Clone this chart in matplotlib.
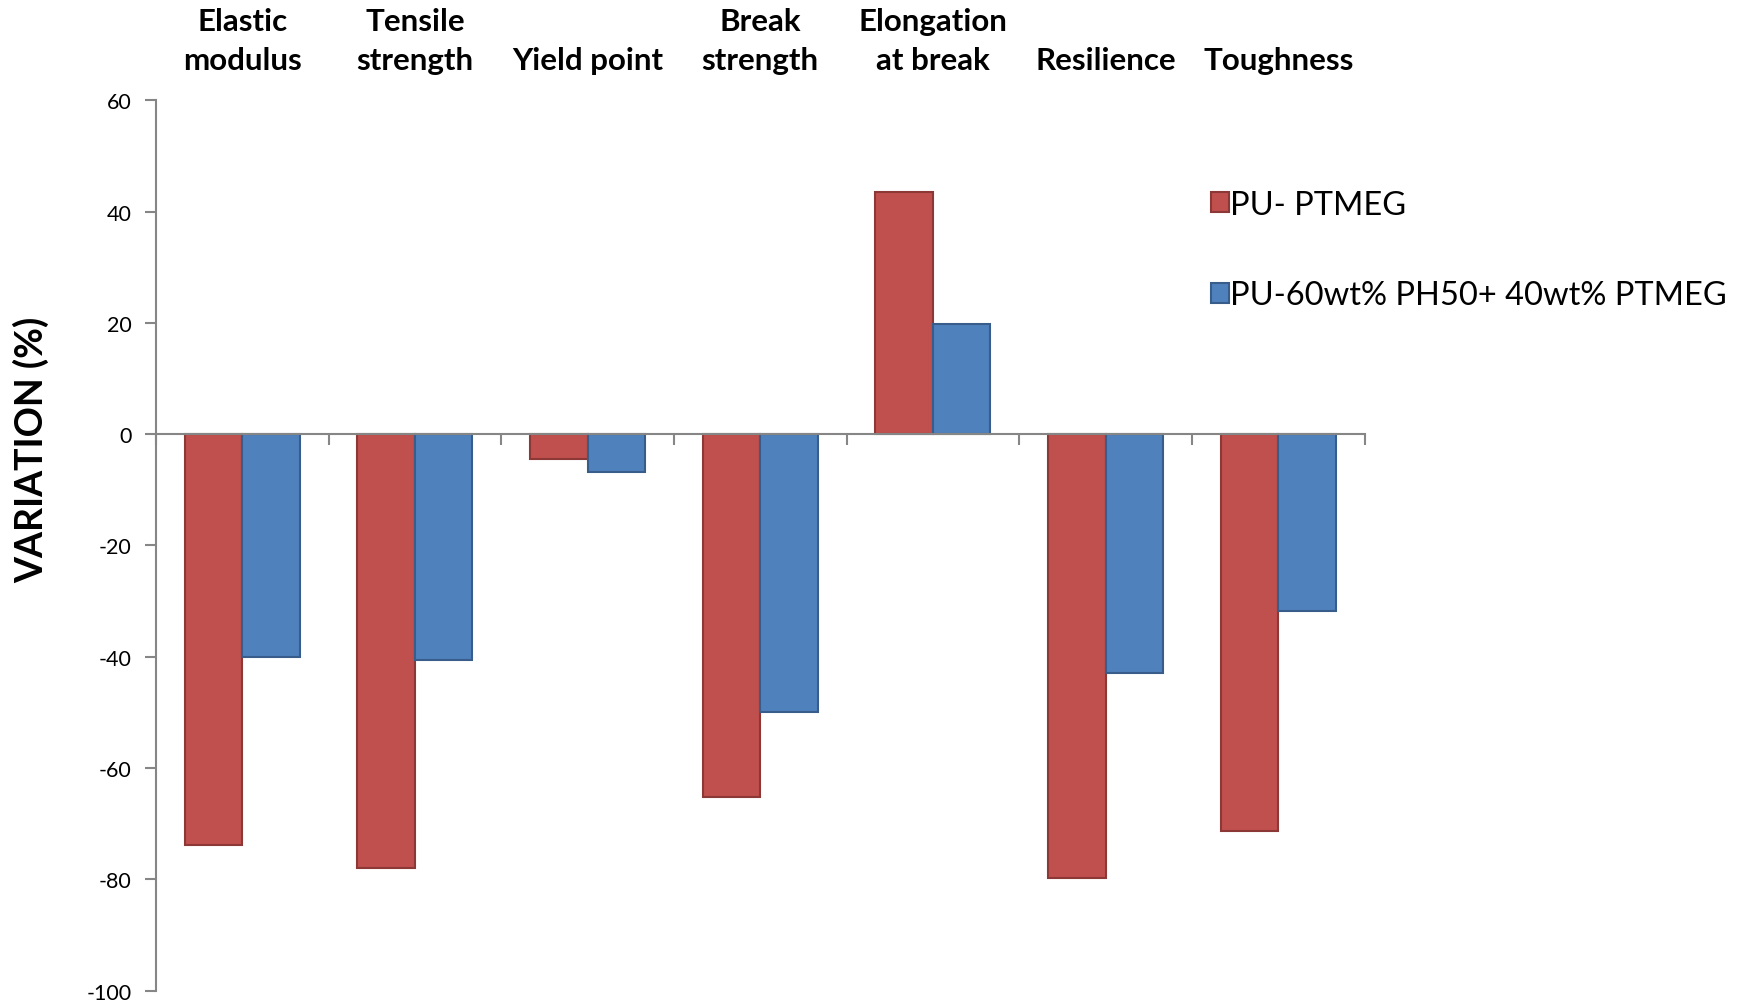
import matplotlib.pyplot as plt
from matplotlib.patches import Patch
from matplotlib.transforms import blended_transform_factory

categories = ['Elastic\nmodulus', 'Tensile\nstrength', 'Yield point', 'Break\nstrength',
              'Elongation\nat break', 'Resilience', 'Toughness']
pu_ptmeg = [-73.8, -78.0, -4.4, -65.2, 43.6, -79.8, -71.4]
pu_ph50 = [-40.0, -40.6, -6.8, -50.0, 19.8, -43.0, -31.8]
series_names = ['PU- PTMEG', 'PU-60wt% PH50+ 40wt% PTMEG']

red = '#C0504D'
red_edge = '#8C3836'
blue = '#4F81BD'
blue_edge = '#385D8A'
axis_grey = '#868686'

plt.rcParams['font.family'] = ['Lato', 'DejaVu Sans']
plt.rcParams['axes.unicode_minus'] = False

fig = plt.figure(figsize=(17.45, 10.03), dpi=100)
ax = fig.add_axes([0.0893, 0.0114, 0.6927, 0.8876])

w = 1 / 3
x = list(range(len(categories)))
ax.bar([i - w / 2 for i in x], pu_ptmeg, width=w, color=red, edgecolor=red_edge, linewidth=1.5)
ax.bar([i + w / 2 for i in x], pu_ph50, width=w, color=blue, edgecolor=blue_edge, linewidth=1.5)

ax.set_xlim(-0.5, len(categories) - 0.5)
ax.set_ylim(-100, 60)
ax.set_yticks(range(-100, 61, 20))
ax.tick_params(axis='y', direction='out', length=8, width=1.5, color=axis_grey,
               labelsize=15.5, pad=9.5)

# category axis sits on y=0, ticks between groups
ax.spines['bottom'].set_position(('data', 0))
ax.set_xticks([i - 0.5 for i in range(len(categories) + 1)])
ax.set_xticklabels([])
ax.tick_params(axis='x', direction='out', length=8, width=1.5, color=axis_grey)
for s in ['top', 'right']:
    ax.spines[s].set_visible(False)
for s in ['left', 'bottom']:
    ax.spines[s].set_color(axis_grey)
    ax.spines[s].set_linewidth(1.5)

ax.set_ylabel('VARIATION (%)', fontsize=27, fontweight='bold')
ax.yaxis.set_label_coords(-0.088, 0.609)

# category names above the plot
trans = blended_transform_factory(ax.transData, fig.transFigure)
for i, c in enumerate(categories):
    ax.text(i, 0.930, c, transform=trans, ha='center', va='baseline',
            fontsize=22.5, fontweight='bold', linespacing=1.5)

handles = [Patch(facecolor=red, edgecolor=red_edge, linewidth=1.5),
           Patch(facecolor=blue, edgecolor=blue_edge, linewidth=1.5)]
fig.legend(handles, series_names, loc='upper left', bbox_to_anchor=(0.677, 0.839),
           frameon=False, fontsize=23.5, handlelength=0.55, handleheight=0.55,
           handletextpad=0.05, labelspacing=1.85)

fig.savefig('out.png', dpi=100)
